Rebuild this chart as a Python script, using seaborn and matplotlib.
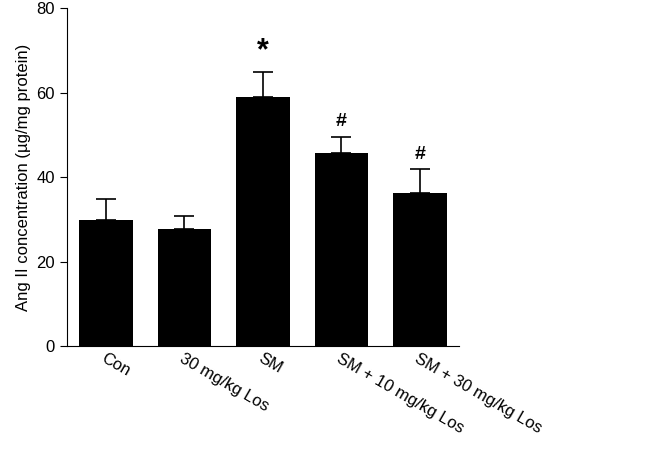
import matplotlib
matplotlib.use("Agg")
import matplotlib.pyplot as plt
import matplotlib.transforms as mtransforms
import seaborn as sns
import pandas as pd

plt.rcParams["font.family"] = "Liberation Sans"

groups = ["Con", "30 mg/kg Los", "SM", "SM + 10 mg/kg Los", "SM + 30 mg/kg Los"]
means = [29.8, 27.8, 59.0, 45.6, 36.2]
errs = [5.0, 3.0, 5.8, 4.0, 5.7]
marks = ["", "", "*", "#", "#"]

df = pd.DataFrame({"group": groups, "value": means})

fig = plt.figure(figsize=(6.54, 4.50), dpi=100)
ax = fig.add_axes([0.102, 0.231, 0.60, 0.751])
sns.barplot(data=df, x="group", y="value", color="black", width=0.68, ax=ax, saturation=1)
ax.errorbar(range(len(groups)), means, yerr=[[0] * len(errs), errs], fmt="none",
            ecolor="black", elinewidth=1.2, capsize=7, capthick=1.2)
for i, (m, e, s) in enumerate(zip(means, errs, marks)):
    if s:
        fs = 22 if s == "*" else 14
        ax.text(i, m + e + 1.5, s, ha="center", va="bottom", fontsize=fs, fontweight="bold")

ax.set_ylim(0, 80)
ax.set_xlim(-0.5, 4.5)
ax.set_yticks([0, 20, 40, 60, 80])
ax.set_xlabel("")
ax.set_ylabel("Ang II concentration (\u00b5g/mg protein)", fontsize=12)
ax.tick_params(axis="both", labelsize=12, direction="out", length=5)
shift = mtransforms.ScaledTranslation(-0.25, 0, fig.dpi_scale_trans)
for lab in ax.get_xticklabels():
    lab.set_rotation(-30)
    lab.set_ha("left")
    lab.set_rotation_mode("anchor")
    lab.set_transform(lab.get_transform() + shift)
ax.spines["top"].set_visible(False)
ax.spines["right"].set_visible(False)
ax.tick_params(axis="x", length=0)
fig.savefig("out.png", dpi=100)
